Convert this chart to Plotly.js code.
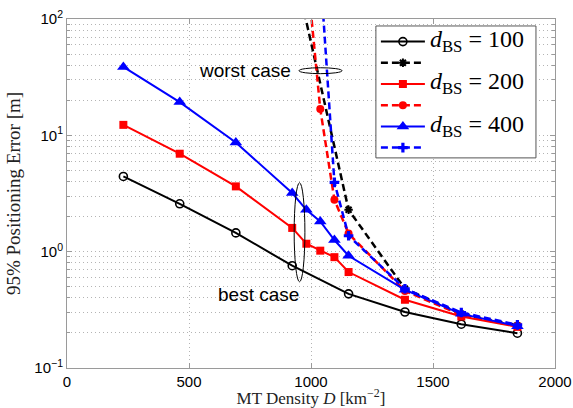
<!DOCTYPE html>
<html>
<head>
<meta charset="utf-8">
<script src="https://cdn.plot.ly/plotly-3.0.1.min.js"></script>
<style>html,body{margin:0;padding:0;background:#fff;}#chart{width:573px;height:408px;}</style>
</head>
<body>
<div id="chart"></div>
<script>
// ---- data ----
var xBase = [231, 462, 692, 923, 1154, 1385, 1616, 1846];
var xFine = [231, 462, 692, 923, 981, 1038, 1096, 1154, 1385, 1616, 1846];

var best100 = [4.43, 2.58, 1.45, 0.757, 0.434, 0.303, 0.238, 0.199];
var best200 = [12.3, 6.95, 3.64, 1.60, 1.17, 1.02, 0.897, 0.668, 0.386, 0.277, 0.226];
var best400 = [38.7, 19.3, 8.69, 3.19, 2.29, 1.82, 1.26, 0.922, 0.47, 0.292, 0.229];

var xWorst100 = [923, 1154, 1385, 1616, 1846];
var worst100 = [330, 2.29, 0.48, 0.292, 0.232];
var xWorst200 = [981, 1038, 1096, 1154, 1385, 1616, 1846];
var worst200 = [290, 16.8, 2.79, 1.43, 0.46, 0.285, 0.228];
var xWorst400 = [1038, 1096, 1154, 1385, 1616, 1846];
var worst400 = [260, 3.94, 1.37, 0.48, 0.30, 0.235];

var legendLabels = ['100', '200', '400'];
var xTickVals = [0, 500, 1000, 1500, 2000];
var yTickVals = [0.1, 1, 10, 100];
var yTickText = ['10<sup>\u22121</sup>', '10<sup>0</sup>', '10<sup>1</sup>', '10<sup>2</sup>'];

function lbl(v) {
  return '<span style="font-size:24px"><i>d</i><sub>BS</sub> = ' + v + '</span>';
}
var dashPat = '7px,4px';
var dotPat = '1px,3px';

var traces = [
  {x: xBase, y: best100, name: lbl(legendLabels[0]), mode: 'lines+markers',
   line: {color: '#000', width: 2},
   marker: {symbol: 'circle-open', size: 8, color: '#000', line: {width: 1.6, color: '#000'}}},
  {x: xWorst100, y: worst100, name: ' ', mode: 'lines+markers',
   line: {color: '#000', width: 2.5, dash: dashPat},
   marker: {symbol: 'asterisk-open', size: 7, color: '#000', line: {width: 2, color: '#000'}}},
  {x: xFine, y: best200, name: lbl(legendLabels[1]), mode: 'lines+markers',
   line: {color: '#ff0000', width: 2},
   marker: {symbol: 'square', size: 8, color: '#ff0000'}},
  {x: xWorst200, y: worst200, name: ' ', mode: 'lines+markers',
   line: {color: '#ff0000', width: 2.5, dash: dashPat},
   marker: {symbol: 'circle', size: 8, color: '#ff0000'}},
  {x: xFine, y: best400, name: lbl(legendLabels[2]), mode: 'lines+markers',
   line: {color: '#0000ff', width: 2},
   marker: {symbol: 'triangle-up', size: 11, color: '#0000ff'}},
  {x: xWorst400, y: worst400, name: ' ', mode: 'lines+markers',
   line: {color: '#0000ff', width: 2.5, dash: dashPat},
   marker: {symbol: 'cross', size: 8, color: '#0000ff'}}
];

var gridC = '#b4b4b4';
var axC = '#9a9a9a';

var layout = {
  width: 573, height: 408,
  margin: {l: 67, r: 18, t: 19, b: 40, pad: 0},
  paper_bgcolor: '#fff', plot_bgcolor: '#fff',
  showlegend: true,
  legend: {
    x: 0.633, y: 0.98, xanchor: 'left', yanchor: 'top',
    bgcolor: 'rgba(0,0,0,0)', borderwidth: 0,
    font: {family: 'Liberation Serif', size: 14, color: '#000'},
    itemwidth: 44, tracegroupgap: 0
  },
  xaxis: {
    range: [0, 2000], tickvals: xTickVals, ticktext: xTickVals.map(String),
    showgrid: true, gridcolor: gridC, griddash: dotPat, gridwidth: 1,
    zeroline: false, showline: true, linecolor: axC, linewidth: 1, mirror: 'ticks',
    ticks: 'inside', ticklen: 5, tickcolor: axC,
    tickfont: {family: 'Liberation Sans', size: 15, color: '#000'},
    title: {text: 'MT Density <i>D</i> [km<sup>\u22122</sup>]', standoff: 4,
            font: {family: 'Liberation Serif', size: 17, color: '#222'}}
  },
  yaxis: {
    type: 'log', range: [-1, 2], tickvals: yTickVals, ticktext: yTickText,
    showgrid: true, gridcolor: gridC, griddash: dotPat, gridwidth: 1,
    zeroline: false, showline: true, linecolor: axC, linewidth: 1, mirror: 'ticks',
    ticks: 'inside', ticklen: 5, tickcolor: axC,
    minor: {dtick: 'D1', ticks: 'inside', ticklen: 3, tickcolor: axC,
            showgrid: true, gridcolor: gridC, griddash: dotPat, gridwidth: 1},
    tickfont: {family: 'Liberation Sans', size: 15, color: '#000'},
    title: {text: '95% Positioning Error [m]', standoff: 8,
            font: {family: 'Liberation Serif', size: 19, color: '#222'}}
  },
  shapes: [
    // legend frame
    {type: 'rect', xref: 'paper', yref: 'paper', x0: 0.633, x1: 0.961, y0: 0.602, y1: 0.980,
     fillcolor: '#fff', line: {color: '#555', width: 1}, layer: 'above'},
    {type: 'circle', xref: 'x', yref: 'y', x0: 951, x1: 1127, y0: 33.9, y1: 38.1,
     line: {color: '#000', width: 1}},
    {type: 'circle', xref: 'x', yref: 'y', x0: 931, x1: 975, y0: 0.551, y1: 3.91,
     line: {color: '#000', width: 1}}
  ],
  annotations: [
    {text: 'worst case', xref: 'x', yref: 'paper', x: 728, y: 0.852,
     showarrow: false, xanchor: 'center', yanchor: 'middle',
     font: {family: 'Liberation Sans', size: 19, color: '#000'}},
    {text: 'best case', xref: 'x', yref: 'paper', x: 784, y: 0.212,
     showarrow: false, xanchor: 'center', yanchor: 'middle',
     font: {family: 'Liberation Sans', size: 19, color: '#000'}}
  ]
};

Plotly.newPlot('chart', traces, layout, {displayModeBar: false, staticPlot: true});
</script>
</body>
</html>
